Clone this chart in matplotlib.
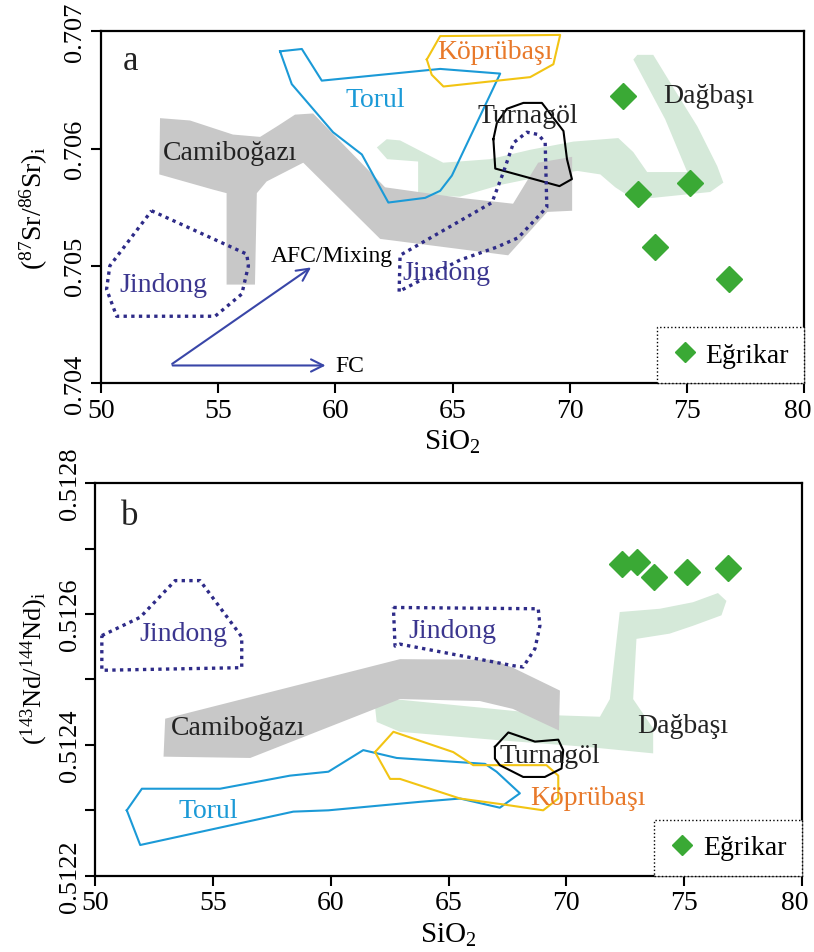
import numpy as np
import matplotlib
matplotlib.use("Agg")
import matplotlib.pyplot as plt
from matplotlib.lines import Line2D
from matplotlib.transforms import ScaledTranslation

plt.rcParams['font.family'] = ['Liberation Serif', 'DejaVu Serif']
plt.rcParams['mathtext.fontset'] = 'custom'
plt.rcParams['mathtext.rm'] = 'Liberation Serif'
plt.rcParams['mathtext.it'] = 'Liberation Serif:italic'

# ---- panel a : (87Sr/86Sr)i vs SiO2 ----
torul_a_x = [57.64, 58.57, 59.42, 64.47, 67.03, 64.97, 64.47, 63.83, 62.26, 61.13, 59.90, 58.14, 57.64]
torul_a_y = [0.70683, 0.70685, 0.70658, 0.70668, 0.70664, 0.70577, 0.70564, 0.70558, 0.70554, 0.70595, 0.70614, 0.70655, 0.70683]

kopru_a_x = [63.90, 64.47, 69.59, 69.30, 68.31, 64.61, 64.11, 63.90]
kopru_a_y = [0.70676, 0.70696, 0.70697, 0.70672, 0.70661, 0.70653, 0.70663, 0.70676]

turna_a_x = [66.74, 66.89, 67.32, 68.02, 68.81, 69.73, 69.88, 70.09, 69.56, 66.82, 66.74]
turna_a_y = [0.70608, 0.70622, 0.70634, 0.70639, 0.70639, 0.70615, 0.70591, 0.70574, 0.70568, 0.70583, 0.70608]

jin1_a_x = [52.16, 56.22, 56.29, 56.01, 54.87, 50.67, 50.24, 50.38, 52.16]
jin1_a_y = [0.70547, 0.70510, 0.70500, 0.70476, 0.70457, 0.70457, 0.70480, 0.70500, 0.70547]

jin2_a_x = [62.72, 62.76, 66.68, 67.17, 67.60, 68.17, 68.66, 68.95, 69.02, 67.80, 66.89, 65.32, 62.89, 62.72]
jin2_a_y = [0.70478, 0.70509, 0.70554, 0.70580, 0.70605, 0.70614, 0.70612, 0.70605, 0.70550, 0.70524, 0.70516, 0.70505, 0.70480, 0.70478]

cami_a_x = [52.52, 53.80, 55.63, 56.79, 57.51, 58.28, 59.05, 62.12, 65.32, 67.58, 68.65, 70.10,
            70.10, 69.04, 67.37, 61.91, 58.63, 57.07, 56.65, 56.57, 55.36, 55.36, 54.79, 52.49]
cami_a_y = [0.70626, 0.70624, 0.70612, 0.70610, 0.70619, 0.70629, 0.70630, 0.70567, 0.70558, 0.70553, 0.70588, 0.70593,
            0.70547, 0.70546, 0.70509, 0.70523, 0.70588, 0.70572, 0.70562, 0.70484, 0.70484, 0.70562, 0.70565, 0.70578]

dag_a_x = [61.77, 62.19, 62.76, 64.60, 66.60, 68.31, 70.15, 72.07, 72.71, 73.30, 75.01, 74.07, 72.71, 72.88,
           73.56, 74.54, 75.44, 76.29, 76.55, 75.99, 73.56, 72.71, 71.94, 71.30, 70.32, 68.74, 67.03, 65.32,
           63.53, 63.53, 62.21]
dag_a_y = [0.70601, 0.70608, 0.70607, 0.70588, 0.70591, 0.70599, 0.70606, 0.70609, 0.70597, 0.70580, 0.70580,
           0.70625, 0.70676, 0.70680, 0.70680, 0.70648, 0.70619, 0.70585, 0.70571, 0.70563, 0.70558, 0.70557,
           0.70567, 0.70578, 0.70581, 0.70576, 0.70569, 0.70559, 0.70560, 0.70589, 0.70591]

egr_a_x = [72.29, 72.93, 75.14, 73.64, 76.77]
egr_a_y = [0.70645, 0.70561, 0.70571, 0.70516, 0.70489]

# ---- panel b : (143Nd/144Nd)i vs SiO2 ----
torul_b_x = [51.34, 51.98, 55.30, 58.27, 59.90, 61.38, 62.80, 66.55, 67.04, 68.03, 67.18, 65.49, 63.79, 59.90, 58.41, 51.91, 51.34]
torul_b_y = [0.512300, 0.512333, 0.512333, 0.512353, 0.512359, 0.512392, 0.512380, 0.512371, 0.512359, 0.512326,
             0.512304, 0.512318, 0.512313, 0.512300, 0.512298, 0.512247, 0.512300]

kopru_b_x = [61.88, 62.66, 65.20, 66.05, 69.16, 69.66, 69.66, 69.02, 67.32, 65.49, 62.94, 62.52, 61.88]
kopru_b_y = [0.512389, 0.512420, 0.512389, 0.512369, 0.512369, 0.512353, 0.512318, 0.512300, 0.512309, 0.512318,
             0.512348, 0.512348, 0.512389]

turna_b_x = [66.97, 67.54, 68.67, 69.66, 69.87, 69.80, 69.09, 68.17, 67.18, 66.97, 66.97]
turna_b_y = [0.512397, 0.512419, 0.512405, 0.512408, 0.512392, 0.512364, 0.512351, 0.512351, 0.512369, 0.512379, 0.512397]

jin1_b_x = [50.28, 51.91, 53.39, 54.45, 56.08, 56.22, 56.22, 50.28, 50.28]
jin1_b_y = [0.512567, 0.512595, 0.512651, 0.512651, 0.512572, 0.512565, 0.512518, 0.512514, 0.512567]

jin2_b_x = [62.66, 68.81, 68.88, 68.67, 68.17, 67.75, 62.93, 62.73, 62.66]
jin2_b_y = [0.512610, 0.512608, 0.512582, 0.512547, 0.512519, 0.512521, 0.512554, 0.512551, 0.512610]

cami_b_x = [52.97, 62.94, 66.89, 67.73, 69.73, 69.69, 67.73, 66.33, 62.94, 56.58, 52.90]
cami_b_y = [0.512440, 0.512531, 0.512530, 0.512518, 0.512483, 0.512422, 0.512455, 0.512467, 0.512470, 0.512380, 0.512382]

dag_b_x = [62.22, 62.94, 69.73, 71.43, 71.85, 72.27, 73.97, 75.38, 76.44, 76.80, 76.59, 75.38, 74.39, 72.98,
           72.84, 73.69, 73.69, 70.86, 67.18, 62.94, 61.95, 61.88]
dag_b_y = [0.512467, 0.512469, 0.512445, 0.512443, 0.512470, 0.512603, 0.512608, 0.512618, 0.512632, 0.512620,
           0.512598, 0.512582, 0.512570, 0.512562, 0.512470, 0.512425, 0.512387, 0.512397, 0.512407, 0.512420,
           0.512435, 0.512458]

egr_b_x = [72.35, 73.01, 73.72, 75.13, 76.87]
egr_b_y = [0.512676, 0.512679, 0.512656, 0.512664, 0.512670]

xticks = [50, 55, 60, 65, 70, 75, 80]
yticks_a = [0.704, 0.705, 0.706, 0.707]
yticks_b = [0.5122, 0.5123, 0.5124, 0.5125, 0.5126, 0.5127, 0.5128]
yticklabels_b = ['0.5122', '', '0.5124', '', '0.5126', '', '0.5128']

GRAY = '#c8c8c8'
MINT = '#d5e9d9'
BLUE = '#1b9ad7'
YEL = '#f2c413'
ORANGE = '#e8792a'
NAVY = '#2e2b88'
JLAB = '#3b368f'
DGREEN = '#3aa935'
ARROW = '#3946a8'
TXT = '#222222'
LFS = 20  # label font size

fig = plt.figure(figsize=(8.14, 9.53), dpi=100)
ax1 = fig.add_axes([0.124, 0.597, 0.864, 0.369])
ax2 = fig.add_axes([0.117, 0.080, 0.868, 0.412])


def style_axes(ax):
    for s in ax.spines.values():
        s.set_linewidth(1.6)
    ax.tick_params(direction='out', length=7, width=1.5, top=False, right=False)
    ax.tick_params(axis='x', labelsize=20)
    ax.tick_params(axis='y', labelsize=19)
    ax.set_xlim(50, 80)
    ax.set_xticks(xticks)
    ax.set_xlabel(r'SiO$_\mathrm{2}$', fontsize=21, labelpad=4)
    # keep the "80" inside the figure
    lab = ax.xaxis.get_major_ticks()[-1].label1
    lab.set_transform(lab.get_transform() + ScaledTranslation(-5 / 72, 0, fig.dpi_scale_trans))


def add_legend(ax):
    h = Line2D([], [], marker='D', ls='', color=DGREEN, ms=10)
    leg = ax.legend([h], ['Eğrikar'], loc='lower right', borderaxespad=0, fancybox=False,
                    edgecolor='black', framealpha=1, fontsize=LFS, handlelength=0.9,
                    handletextpad=0.3, borderpad=0.55)
    leg.get_frame().set_linestyle(':')
    leg.get_frame().set_linewidth(1.0)


# panel a
ax1.fill(dag_a_x, dag_a_y, color=MINT, lw=0, zorder=1)
ax1.fill(cami_a_x, cami_a_y, color=GRAY, lw=0, zorder=2)
ax1.plot(torul_a_x, torul_a_y, color=BLUE, lw=1.5, zorder=3)
ax1.plot(kopru_a_x, kopru_a_y, color=YEL, lw=1.5, zorder=3)
ax1.plot(turna_a_x, turna_a_y, color='black', lw=1.5, zorder=3)
ax1.plot(jin1_a_x, jin1_a_y, color=NAVY, lw=2.4, ls=(0, (1, 1.3)), zorder=3)
ax1.plot(jin2_a_x, jin2_a_y, color=NAVY, lw=2.4, ls=(0, (1, 1.3)), zorder=3)
ax1.plot(egr_a_x, egr_a_y, 'D', color=DGREEN, ms=13, zorder=4)

ax1.annotate('', xy=(59.06, 0.70500), xytext=(52.94, 0.70415),
             arrowprops=dict(arrowstyle='->', color=ARROW, lw=1.5, mutation_scale=22))
ax1.annotate('', xy=(59.70, 0.70415), xytext=(52.94, 0.70415),
             arrowprops=dict(arrowstyle='->', color=ARROW, lw=1.5, mutation_scale=22))
ax1.text(57.25, 0.70509, 'AFC/Mixing', fontsize=17, va='center', ha='left', color='black', zorder=5)
ax1.text(59.99, 0.70415, 'FC', fontsize=17, va='center', ha='left', color='black', zorder=5)

ax1.text(51.24, 0.70675, 'a', fontsize=25, ha='center', va='center', color=TXT)
ax1.text(61.7, 0.70642, 'Torul', fontsize=LFS, ha='center', va='center', color=BLUE, zorder=5)
ax1.text(66.8, 0.70683, 'Köprübaşı', fontsize=LFS, ha='center', va='center', color=ORANGE, zorder=5)
ax1.text(68.2, 0.70628, 'Turnagöl', fontsize=LFS, ha='center', va='center', color=TXT, zorder=5)
ax1.text(52.66, 0.70484, 'Jindong', fontsize=LFS, ha='center', va='center', color=JLAB, zorder=5)
ax1.text(64.72, 0.70494, 'Jindong', fontsize=LFS, ha='center', va='center', color=JLAB, zorder=5)
ax1.text(55.5, 0.70597, 'Camiboğazı', fontsize=LFS, ha='center', va='center', color=TXT, zorder=5)
ax1.text(75.93, 0.70645, 'Dağbaşı', fontsize=LFS, ha='center', va='center', color=TXT, zorder=5)

style_axes(ax1)
ax1.set_ylim(0.704, 0.707)
ax1.set_yticks(yticks_a)
ax1.set_yticklabels(['%.3f' % v for v in yticks_a], rotation=90, va='center')
ax1.set_ylabel(r'$(^{87}\mathrm{Sr}/^{86}\mathrm{Sr})_\mathrm{i}$', fontsize=20)
ax1.yaxis.set_label_coords(-0.073, 0.5)
add_legend(ax1)

# panel b
ax2.fill(dag_b_x, dag_b_y, color=MINT, lw=0, zorder=1)
ax2.fill(cami_b_x, cami_b_y, color=GRAY, lw=0, zorder=2)
ax2.plot(torul_b_x, torul_b_y, color=BLUE, lw=1.5, zorder=3)
ax2.plot(kopru_b_x, kopru_b_y, color=YEL, lw=1.5, zorder=3)
ax2.plot(turna_b_x, turna_b_y, color='black', lw=1.5, zorder=3)
ax2.plot(jin1_b_x, jin1_b_y, color=NAVY, lw=2.4, ls=(0, (1, 1.3)), zorder=3)
ax2.plot(jin2_b_x, jin2_b_y, color=NAVY, lw=2.4, ls=(0, (1, 1.3)), zorder=3)
ax2.plot(egr_b_x, egr_b_y, 'D', color=DGREEN, ms=13, zorder=4)

ax2.text(51.48, 0.51275, 'b', fontsize=25, ha='center', va='center', color=TXT)
ax2.text(54.81, 0.512300, 'Torul', fontsize=LFS, ha='center', va='center', color=BLUE, zorder=5)
ax2.text(70.9, 0.512320, 'Köprübaşı', fontsize=LFS, ha='center', va='center', color=ORANGE, zorder=5)
ax2.text(69.3, 0.512384, 'Turnagöl', fontsize=LFS, ha='center', va='center', color=TXT, zorder=5)
ax2.text(53.75, 0.512570, 'Jindong', fontsize=LFS, ha='center', va='center', color=JLAB, zorder=5)
ax2.text(65.17, 0.512575, 'Jindong', fontsize=LFS, ha='center', va='center', color=JLAB, zorder=5)
ax2.text(56.08, 0.512427, 'Camiboğazı', fontsize=LFS, ha='center', va='center', color=TXT, zorder=5)
ax2.text(74.93, 0.512430, 'Dağbaşı', fontsize=LFS, ha='center', va='center', color=TXT, zorder=5)

style_axes(ax2)
ax2.set_ylim(0.5122, 0.5128)
ax2.set_yticks(yticks_b)
ax2.set_yticklabels(yticklabels_b, rotation=90, va='center')
ax2.set_ylabel(r'$(^{143}\mathrm{Nd}/^{144}\mathrm{Nd})_\mathrm{i}$', fontsize=19)
ax2.yaxis.set_label_coords(-0.064, 0.53)
add_legend(ax2)

fig.savefig('out.png', dpi=100)
